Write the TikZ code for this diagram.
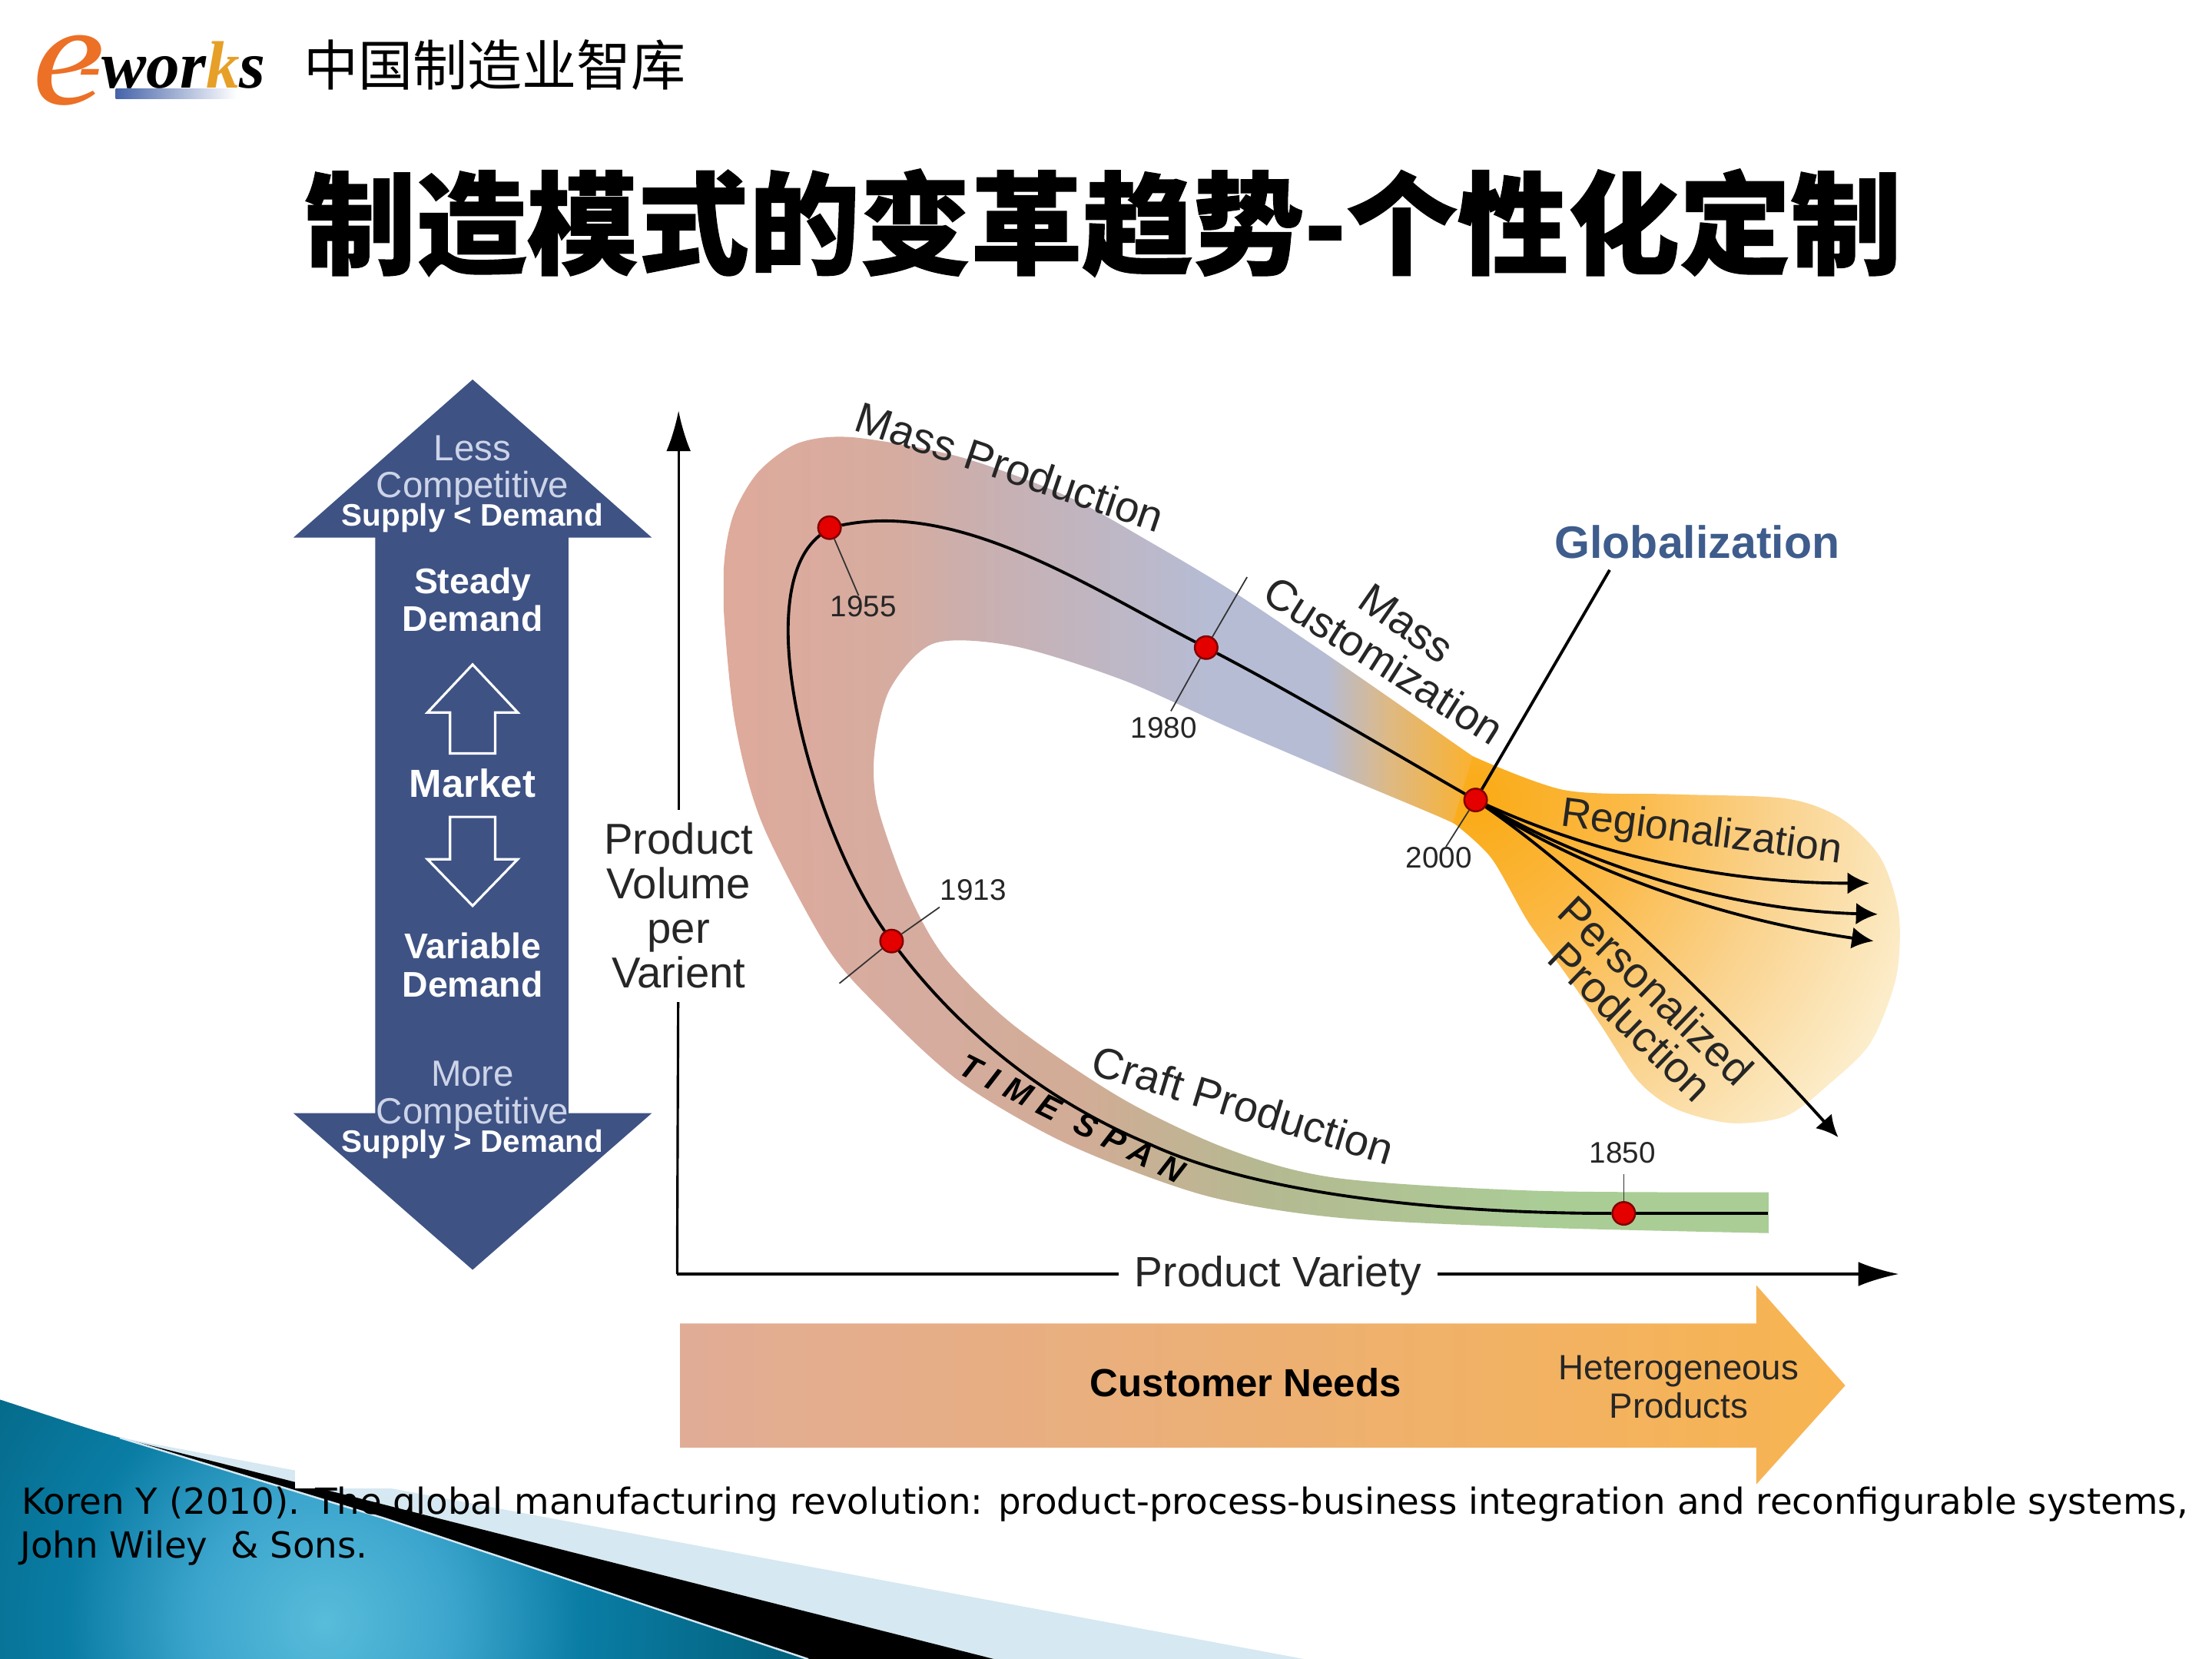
\documentclass[tikz,border=0pt]{standalone}
\usepackage{fontspec}
\usetikzlibrary{arrows.meta}
\setmainfont{Liberation Sans}
\newfontfamily\cjkfont{Noto Sans CJK SC}
\newfontfamily\titlefont[BoldFeatures={FakeBold=1}]{Noto Sans CJK SC}
\newfontfamily\serifont{Liberation Serif}
\newfontfamily\citefont{DejaVu Sans}
\newfontfamily\spanfont[LetterSpace=32]{Liberation Sans}
\definecolor{navy}{RGB}{62,82,132}
\definecolor{palenavy}{RGB}{205,212,232}
\definecolor{globe}{RGB}{62,92,140}
\definecolor{paleblue}{RGB}{214,232,241}
\definecolor{bandpink}{RGB}{222,170,155}
\definecolor{bandrose}{RGB}{214,172,160}
\definecolor{bandmauve}{RGB}{202,175,175}
\definecolor{bandblue}{RGB}{182,188,212}
\definecolor{bandtan}{RGB}{222,185,130}
\definecolor{bandorange}{RGB}{250,178,50}
\definecolor{bandbrown}{RGB}{210,172,150}
\definecolor{bandolive}{RGB}{180,185,145}
\definecolor{bandgreen}{RGB}{170,205,150}
\definecolor{needsleft}{RGB}{225,172,150}
\definecolor{needsright}{RGB}{248,180,80}
\definecolor{fadea}{RGB}{250,170,20}
\definecolor{fadeb}{RGB}{251,185,70}
\definecolor{fadec}{RGB}{250,210,140}
\definecolor{faded}{RGB}{252,238,205}
\definecolor{seaa}{RGB}{88,188,218}
\definecolor{seab}{RGB}{60,165,205}
\definecolor{seac}{RGB}{10,125,165}
\definecolor{sead}{RGB}{0,88,112}
\definecolor{logoorange}{RGB}{236,112,38}
\definecolor{logogold}{RGB}{230,160,40}
\definecolor{logobar}{RGB}{70,100,170}
\pgfdeclarehorizontalshading{upperband}{100bp}{
  color(0bp)=(bandpink); color(25bp)=(bandpink); color(36bp)=(bandrose); color(41bp)=(bandmauve);
  color(55.5bp)=(bandblue); color(63bp)=(bandblue); color(67bp)=(bandtan);
  color(72bp)=(bandorange); color(100bp)=(bandorange)}
\pgfdeclarehorizontalshading{lowerband}{100bp}{
  color(0bp)=(bandpink); color(25bp)=(bandpink); color(33.5bp)=(bandrose); color(42bp)=(bandbrown);
  color(51bp)=(bandolive); color(64.5bp)=(bandgreen); color(100bp)=(bandgreen)}
\pgfdeclareradialshading{bubblefade}{\pgfpointorigin}{
  color(0bp)=(fadea); color(8bp)=(fadeb); color(16bp)=(fadec);
  color(25bp)=(faded); color(50bp)=(faded)}
\pgfdeclareradialshading{footerblue}{\pgfpointorigin}{
  color(0bp)=(seaa); color(6bp)=(seab); color(12bp)=(seac);
  color(25bp)=(sead); color(50bp)=(sead)}
\tikzset{
  x=0.01836cm, y=-0.01836cm,
  label16/.style={font=\fontsize{16}{16.5}\selectfont, align=center, text=black!85, inner sep=0pt},
  year/.style={font=\fontsize{11}{12}\selectfont, text=black!85, inner sep=0pt},
  yeardot/.style={circle, draw=red!50!black, fill=red!90!black, line width=0.7pt, minimum size=8.4pt, inner sep=0pt},
  ticks/.style={black!80, line width=0.5pt},
  timeline/.style={black, line width=1.1pt},
  flow/.style={black, line width=1.1pt, -{Latex[length=8pt,width=8pt]}},
  axisline/.style={black, line width=0.9pt},
  lighttext/.style={font=\fontsize{13.5}{13.5}\selectfont, text=palenavy, inner sep=0pt},
  whitebold/.style={font=\bfseries\fontsize{13.2}{14}\selectfont, align=center, text=white, inner sep=0pt},
  supplytext/.style={font=\bfseries\fontsize{11.5}{12}\selectfont, text=white, inner sep=0pt},
  hollow/.style={draw=white, line width=0.9pt, fill=navy}
}
\begin{document}
\begin{tikzpicture}
\path[fill=white, use as bounding box] (0,0) rectangle (1568,1175.8);

\fill[paleblue] (85,1019) -- (925,1176) -- (705,1176) -- cycle;
\fill[black] (85,1019) -- (705,1176) -- (573,1176) -- cycle;
\begin{scope}
\clip (0,992) .. controls (40,1005) and (60,1012) .. (85,1019) -- (272,1076) -- (573,1176) -- (0,1176) -- cycle;
\shade[shading=footerblue] (230,1150) circle (380);
\end{scope}
\draw[paleblue, line width=0.7pt] (85,1019) -- (272,1076) -- (573,1176);
\fill[white] (209,1000) rectangle (1568,1055);

\node[font=\serifont\itshape\fontsize{54}{54}\selectfont, text=logoorange, inner sep=0pt, xscale=1.12] (logoe) at (49,50) {e};
\node[font=\serifont\bfseries\itshape\fontsize{24.8}{25}\selectfont, inner sep=0pt, anchor=west] (logoworks) at (56,46) {\textcolor{logoorange}{-}wor\textcolor{logogold}{k}s};
\shade[left color=logobar, right color=white] (82,63) rectangle (168,70);
\node[font=\cjkfont\fontsize{20.2}{21}\selectfont, inner sep=0pt, anchor=west] (brand) at (215,46) {中国制造业智库};
\node[font=\titlefont\bfseries\fontsize{41.1}{42}\selectfont, inner sep=0pt] (title) at (782,158) {制造模式的变革趋势-个性化定制};

\fill[navy] (335,269) -- (462,381) -- (403,381) -- (403,789) -- (462,789) -- (335,900) -- (208,789) -- (266,789) -- (266,381) -- (208,381) -- cycle;
\node[lighttext] (less) at (335,318) {Less};
\node[lighttext] (compa) at (335,346) {Competitive};
\node[supplytext] (supa) at (335,367) {Supply < Demand};
\node[whitebold] (steady) at (335,425) {Steady\\Demand};
\draw[hollow] (335,471) -- (367,505) -- (351,505) -- (351,534) -- (319,534) -- (319,505) -- (303,505) -- cycle;
\node[whitebold, font=\bfseries\fontsize{14.5}{15}\selectfont] (market) at (335,555) {Market};
\draw[hollow] (335,642) -- (367,609) -- (351,609) -- (351,579) -- (319,579) -- (319,609) -- (303,609) -- cycle;
\node[whitebold] (variable) at (335,684) {Variable\\Demand};
\node[lighttext] (more) at (335,761) {More};
\node[lighttext] (compb) at (335,790) {Competitive};
\node[supplytext] (supb) at (335,811) {Supply > Demand};

\begin{scope}
\clip plot[smooth] coordinates {(1254,874) (1089,870) (948,863) (853,847) (757,811) (681,767) (624,715) (586,671) (540,583) (521,512) (513,432) (514,392) (521,362) (538,334) (566,314) (605,310) (681,324) (757,352) (815,384) (872,418) (929,456) (987,496) (1044,536) (1062,546)} -- plot[smooth] coordinates {(1040,590) (1025,581) (949,549) (872,516) (796,482) (719,458) (662,456) (631,488) (620,532) (622,571) (643,631) (670,679) (719,727) (796,779) (872,815) (948,835) (1089,844) (1254,845)} -- cycle;
\shade[shading=upperband] (513,300) rectangle (1075,600);
\shade[shading=lowerband] (513,600) rectangle (1254,880);
\end{scope}
\begin{scope}
\clip plot[smooth] coordinates {(1044,536) (1109,560) (1188,563) (1266,566) (1305,580) (1333,608) (1346,648) (1344,693) (1326,739) (1297,768) (1266,791) (1227,796) (1188,786) (1161,766) (1135,727) (1109,689) (1083,653) (1057,608) (1030,583)} -- cycle;
\shade[shading=bubblefade] (1046,567) circle (330);
\end{scope}

\node[yeardot] (y1850) at (1151,860) {};
\node[yeardot] (y1913) at (632,667) {};
\node[yeardot] (y1955) at (588,374) {};
\node[yeardot] (y1980) at (855,459) {};
\node[yeardot] (y2000) at (1046,567) {};
\node[year] (t1850) at (1150,817) {1850};
\node[year] (t1913) at (690,631) {1913};
\node[year] (t1955) at (612,430) {1955};
\node[year] (t1980) at (825,516) {1980};
\node[year] (t2000) at (1020,608) {2000};
\node[font=\bfseries\fontsize{16.8}{17}\selectfont, text=globe, inner sep=0pt] (globe) at (1203,384) {Globalization};

\coordinate (tend) at (1253,860);
\coordinate (tmid) at (815,811);
\coordinate (a1913) at (666,643);
\coordinate (b1913) at (595,697);
\coordinate (a1980) at (884,409);
\coordinate (b1980) at (830,504);
\coordinate (up1850) at (1151,832);
\coordinate (globe1) at (1141,404);
\coordinate (e1) at (1325,626);
\coordinate (e2) at (1331,648);
\coordinate (e3) at (1328,667);
\coordinate (e4) at (1303,806);

\draw[ticks] (a1913) -- (y1913);
\draw[ticks] (y1913) -- (b1913);
\draw[ticks] (a1980) -- (y1980);
\draw[ticks] (y1980) -- (b1980);
\draw[ticks] (y1955) -- (t1955);
\draw[ticks] (y2000) -- (t2000);
\draw[ticks] (y1850) -- (up1850);
\draw[timeline] (globe1) -- (y2000);
\draw[timeline] (tend) -- (y1850);
\draw[timeline] (y1850) .. controls (1040,860) and (900,850) .. (tmid) .. controls (740,780) and (680,730) .. (y1913);
\draw[timeline] (y1913) .. controls (575,585) and (530,420) .. (y1955);
\draw[timeline] (y1955) .. controls (680,355) and (770,415) .. (y1980);
\draw[timeline] (y1980) .. controls (920,493) and (985,532) .. (y2000);
\draw[flow] (y2000) .. controls (1130,605) and (1220,626) .. (e1);
\draw[flow] (y2000) .. controls (1120,610) and (1220,645) .. (e2);
\draw[flow] (y2000) .. controls (1115,612) and (1210,650) .. (e3);
\draw[flow] (y2000) .. controls (1130,625) and (1230,725) .. (e4);

\node[label16, rotate=-18.7] (massprod) at (716,331) {Mass Production};
\node[label16, rotate=-35] (masstext) at (997,442) {Mass};
\node[label16, rotate=-32.4] (custtext) at (981,468) {Customization};
\node[label16, rotate=-7.5, font=\fontsize{15.3}{16}\selectfont] (region) at (1206,591) {Regionalization};
\node[label16, rotate=-44] (person) at (1174,702) {Personalized};
\node[label16, rotate=-44] (prodn) at (1156,724) {Production};
\node[label16, rotate=-17] (craft) at (881,783) {Craft Production};
\node[font=\spanfont\bfseries\itshape\fontsize{12}{12}\selectfont, inner sep=0pt, rotate=-26.7] (span) at (760,793) {TIME SPAN};

\node[label16, outer sep=5pt] (volume) at (481,642) {Product\\Volume\\per\\Varient};
\node[label16, outer sep=6pt, font=\fontsize{15.7}{16}\selectfont] (variety) at (906,904) {Product Variety};
\coordinate (origin) at (480,903);
\coordinate (ytop) at (481,291);
\coordinate (xend) at (1346,903);
\draw[axisline] (origin) -- (volume);
\draw[axisline, -{Latex[length=15pt,width=9pt]}] (volume) -- (ytop);
\draw[axisline] (origin) -- (variety.west |- origin);
\draw[axisline, -{Latex[length=15pt,width=9pt]}] (variety.east |- origin) -- (xend);

\shade[left color=needsleft, right color=needsright] (482,938) -- (1245,938) -- (1245,911) -- (1308,982) -- (1245,1052) -- (1245,1026) -- (482,1026) -- cycle;
\node[font=\bfseries\fontsize{14.5}{15}\selectfont, inner sep=0pt] (needs) at (883,980) {Customer Needs};
\node[font=\fontsize{13}{14}\selectfont, align=center, inner sep=0pt, text=black!85] (hetero) at (1190,983) {Heterogeneous\\Products};

\node[font=\citefont\fontsize{13.3}{14}\selectfont, inner sep=0pt, anchor=west] (citea) at (15,1066) {Koren Y (2010). The global manufacturing revolution: product-process-business integration and reconfigurable systems,};
\node[font=\citefont\fontsize{13.3}{14}\selectfont, inner sep=0pt, anchor=west] (citeb) at (14,1097) {John Wiley~ \& Sons.};
\end{tikzpicture}
\end{document}
